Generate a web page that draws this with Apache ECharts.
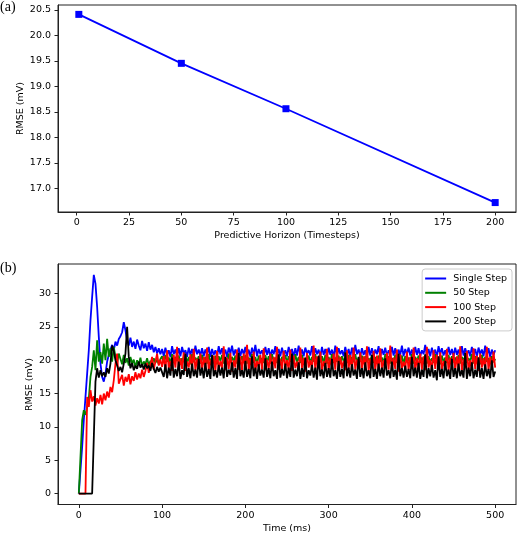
<!DOCTYPE html>
<html>
<head>
<meta charset="utf-8">
<script src="https://cdn.jsdelivr.net/npm/echarts@6/dist/echarts.min.js"></script>
<style>
  html, body { margin: 0; padding: 0; background: #fff; }
  #chart { width: 518px; height: 535px; }
</style>
</head>
<body>
<div id="chart"></div>
<script>
// (a) RMSE against predictive horizon
const horizons = [1, 50, 100, 200];
const horizonRmse = [20.41, 19.45, 18.56, 16.72];
const topXTicks = [0, 25, 50, 75, 100, 125, 150, 175, 200];
const topYTicks = [17.0, 17.5, 18.0, 18.5, 19.0, 19.5, 20.0, 20.5];

// (b) RMSE over time, sampled every 2 ms from 0 to 500 ms
const timeStepMs = 2;
const seriesNames = ['Single Step', '50 Step', '100 Step', '200 Step'];
const singleStep = [
  0,3.5,7,11,14.5,18,21.5,26,29.5,32.8,31.5,28,23.5,19.5,17.5,16.8,18,19.8,20.8,21.6,22.3,21.5,22.8,22.2,23.2,
  23.6,24.2,25.7,24.5,23,22.2,23.4,22,22.8,21.7,23.1,22.2,21.5,22.9,21.8,22.5,21.4,22.7,21.6,22.3,21.2,22,21,21.8,20.9,
  21.7,20.6,21.9,20.8,21.5,20.5,22.1,20.9,21.6,20.7,21.8,20.6,22.0,21.0,21.5,20.5,21.9,20.8,21.7,20.6,22.2,20.9,21.6,20.7,21.8,
  20.6,21.6,20.9,22.0,20.5,21.7,20.8,21.5,20.6,22.1,20.9,21.8,20.7,21.6,20.5,21.9,21.0,22.2,20.7,21.6,20.8,21.9,20.6,21.7,20.9,
  22.0,20.7,21.6,20.5,21.9,20.8,22.3,20.6,21.7,20.9,21.5,20.6,22.0,20.8,21.8,20.5,21.6,20.9,22.1,20.7,21.7,20.6,21.9,20.8,21.5,
  20.6,22.0,20.9,21.7,20.5,21.8,20.7,22.2,20.8,21.6,20.6,21.9,21.0,21.5,20.7,22.1,20.6,21.8,20.9,21.6,20.5,22.0,20.8,21.7,20.6,
  21.9,20.8,21.6,20.5,22.2,20.7,21.8,20.9,21.5,20.6,22.0,20.8,21.7,20.5,21.9,20.7,22.3,20.9,21.6,20.6,21.8,20.8,21.5,20.5,22.0,
  20.7,21.8,20.6,21.6,20.9,22.1,20.5,21.7,20.8,21.9,20.6,21.5,20.9,22.0,20.7,21.8,20.5,21.6,20.8,22.2,20.6,21.7,20.9,21.9,20.7,
  21.6,20.5,22.0,20.8,21.8,20.6,21.5,20.9,22.3,20.7,21.7,20.6,21.9,20.8,21.6,20.5,22.1,20.9,21.8,20.7,21.5,20.6,22.0,20.8,21.7,
  20.6,21.9,20.8,21.6,20.5,22.1,20.7,21.8,20.9,21.5,20.6,22.0,20.8,21.7,20.5,21.9,20.9,21.6,20.6,22.2,20.7,21.8,20.5,21.6,20.8,
  21.5
];
const step50 = [
  0,0,11,12.5,11.8,12.9,14.2,17.5,19,21.5,18.5,23,19.8,21.2,19.5,22.5,20,23.2,20.5,21.8,19.8,22,20.5,19.5,21,
  20.2,19.4,20.8,19.6,20.3,19.2,20.5,19.5,20.1,18.9,20,19.3,20.4,19.1,19.8,19.4,20.3,19.2,19.9,19.5,20.3,19.6,20.1,19.4,20.2,
  20.6,19.6,20.8,19.8,20.4,19.5,20.9,19.7,20.5,19.9,20.7,19.5,20.3,19.8,20.8,19.6,20.5,19.4,20.9,19.7,20.4,19.9,20.6,19.5,20.8,
  19.7,20.5,19.5,20.9,19.8,20.3,19.6,20.7,19.4,20.6,19.9,20.8,19.5,20.4,19.7,21.0,19.6,20.5,19.8,20.7,19.5,20.3,19.9,20.6,19.6,
  20.8,19.5,20.4,19.8,20.9,19.6,20.5,19.4,20.7,19.9,20.3,19.6,20.8,19.7,20.6,19.5,20.9,19.8,20.4,19.6,20.7,19.5,20.5,19.9,20.8,
  19.6,20.6,19.8,20.4,19.5,20.9,19.7,20.5,19.6,20.8,19.4,20.3,19.9,20.7,19.6,20.5,19.8,20.9,19.5,20.4,19.7,20.6,19.6,20.8,19.5,
  20.5,19.7,20.9,19.6,20.4,19.8,20.7,19.5,20.6,19.9,20.3,19.6,20.8,19.4,20.5,19.7,20.9,19.6,20.4,19.8,20.7,19.5,20.6,19.7,20.3,
  19.9,20.8,19.6,20.5,19.5,20.7,19.8,20.4,19.6,20.9,19.7,20.6,19.5,20.3,19.8,20.8,19.6,20.5,19.9,20.7,19.4,20.6,19.7,20.4,19.6,
  20.9,19.5,20.5,19.8,20.7,19.6,20.4,19.9,20.8,19.5,20.6,19.7,20.3,19.6,20.9,19.8,20.5,19.4,20.7,19.7,20.4,19.6,20.8,19.5,20.6,
  19.7,20.4,19.6,20.8,19.5,20.5,19.9,20.7,19.6,20.3,19.8,20.9,19.5,20.6,19.7,20.4,19.4,20.8,19.6,20.5,19.8,20.3,19.5,20.6,19.7,
  20.2
];
const step100 = [
  0,0,0,0,0,14.5,13,15.5,13.8,14.6,13.2,14.3,13.5,14.8,13.4,15,14,15.3,14.4,16,15.2,17,19.5,21,16.5,
  16.5,17.8,16.2,17.5,16.8,17.9,16.4,17.6,16.9,18.2,17.1,18,17.3,18.6,17.5,18.4,19.6,18.1,19.3,20.5,18.6,19.8,21,19.2,20.1,
  19.0,20.6,18.6,21.5,18.8,19.9,18.4,20.8,18.9,22.0,18.5,20.3,18.7,21.2,18.4,19.8,18.9,20.9,18.6,21.7,18.5,20.2,18.8,21.0,18.4,
  20.5,18.7,21.9,18.5,20.1,18.9,20.7,18.4,21.4,18.6,19.9,18.8,22.1,18.5,20.4,18.7,21.1,18.3,20.0,18.9,21.6,18.6,20.6,18.4,21.0,
  18.7,22.3,18.5,20.3,18.8,21.3,18.4,19.9,18.9,20.8,18.6,21.8,18.5,20.1,18.7,21.0,18.4,20.5,18.8,22.0,18.6,20.2,18.5,21.4,18.9,
  20.0,18.6,21.6,18.4,20.7,18.8,19.8,18.5,21.9,18.7,20.4,18.3,21.1,18.9,20.0,18.6,22.2,18.5,20.6,18.8,21.3,18.4,19.9,18.7,21.7,
  18.5,20.3,18.9,21.0,18.6,22.0,18.4,20.5,18.8,19.9,18.5,21.5,18.7,20.8,18.4,21.9,18.6,20.1,18.9,21.2,18.5,20.6,18.7,22.1,18.4,
  20.2,18.8,21.4,18.5,20.7,18.6,21.8,18.4,20.0,18.9,21.1,18.6,22.2,18.5,20.4,18.7,21.6,18.3,20.9,18.8,19.8,18.6,21.3,18.5,20.5,
  18.7,21.9,18.4,20.3,18.8,21.0,18.6,20.6,18.5,22.0,18.9,20.1,18.4,21.5,18.7,20.8,18.5,21.2,18.6,19.9,18.8,21.7,18.4,20.4,18.9,
  21.1,18.5,20.6,18.7,22.1,18.4,20.2,18.8,21.4,18.6,20.0,18.5,21.8,18.7,20.7,18.4,21.0,18.9,20.3,18.6,22.0,18.5,20.5,18.7,21.3,
  18.9
];
const step200 = [
  0,0,0,0,0,0,0,0,0,0,16.8,18.8,17.4,18.5,17.6,18.2,17.5,18.8,18,19.5,22.2,21.4,20,19.2,18.4,
  19,18.2,19.5,21,25,20.5,18.8,19.6,18.5,19.2,18.7,19.8,18.9,19.4,18.6,19.5,18.8,19.2,18.4,19.6,18.7,18.1,19,18.3,18.9,
  18.6,17.5,19.4,17.3,18.9,17.7,20.4,17.4,18.7,17.6,19.8,17.2,18.5,17.8,21.0,17.5,18.8,17.3,19.5,17.6,18.6,17.4,20.2,17.7,18.9,
  17.3,19.6,17.5,18.7,17.2,20.8,17.6,18.5,17.4,19.3,17.7,18.9,17.3,20.5,17.5,18.6,17.8,19.7,17.4,18.8,17.2,21.1,17.6,18.5,17.4,
  19.9,17.5,18.7,17.3,20.6,17.6,18.9,17.2,19.4,17.7,18.6,17.4,20.3,17.5,18.8,17.3,19.8,17.6,18.5,17.2,20.9,17.4,18.7,17.7,19.5,
  17.3,18.9,17.5,21.0,17.4,18.6,17.6,19.7,17.2,18.8,17.5,20.4,17.3,18.5,17.7,19.3,17.4,18.9,17.1,20.7,17.6,18.6,17.3,19.6,17.5,
  18.8,17.4,20.2,17.6,18.5,17.2,19.9,17.5,18.7,17.3,21.2,17.6,18.9,17.4,19.4,17.7,18.6,17.2,20.5,17.5,18.8,17.3,19.7,17.6,18.5,
  17.3,20.8,17.5,18.7,17.2,19.5,17.6,18.9,17.4,20.3,17.7,18.5,17.3,19.8,17.5,18.6,17.1,21.0,17.6,18.8,17.4,19.2,17.5,18.7,17.3,
  20.5,17.6,18.9,17.4,19.6,17.2,18.6,17.5,20.9,17.3,18.8,17.6,19.3,17.4,18.5,17.0,20.6,17.5,18.7,17.3,19.9,17.6,18.6,17.2,20.2,
  17.5,18.8,17.3,19.5,17.6,18.5,17.4,21.1,17.2,18.9,17.6,19.7,17.3,18.6,17.5,20.4,17.4,18.8,17.2,19.4,17.6,18.7,17.3,20.0,17.5,
  18.3
];
const bottomXTicks = [0, 100, 200, 300, 400, 500];
const bottomYTicks = [0, 5, 10, 15, 20, 25, 30];

const colors = ['#0000ff', '#008000', '#ff0000', '#000000'];
const font = 'DejaVu Sans';
const labelStyle = { color: '#000', fontFamily: font, fontSize: 9.5 };

function pairs(values) {
  return values.map((v, i) => [i * timeStepMs, v]);
}

function valueAxis(gridIndex, min, max, ticks, fmt, name, nameGap, labelMargin) {
  return {
    type: 'value',
    gridIndex: gridIndex,
    min: min,
    max: max,
    name: name,
    nameLocation: 'middle',
    nameGap: nameGap,
    nameTextStyle: labelStyle,
    axisLine: { show: true, onZero: false, lineStyle: { color: '#222', width: 1 } },
    axisTick: { show: true, inside: false, length: 3.5, lineStyle: { color: '#222' }, customValues: ticks },
    axisLabel: Object.assign({ margin: labelMargin, customValues: ticks, formatter: fmt }, labelStyle),
    splitLine: { show: false }
  };
}

function yName(x, y) {
  return {
    type: 'text',
    x: x,
    y: y,
    rotation: Math.PI / 2,
    style: { text: 'RMSE (mV)', fill: '#000', font: '9.5px "DejaVu Sans"', align: 'center', verticalAlign: 'middle' }
  };
}

const chart = echarts.init(document.getElementById('chart'), null, { renderer: 'canvas' });

const lineSeries = [singleStep, step50, step100, step200].map((vals, i) => ({
  name: seriesNames[i],
  type: 'line',
  xAxisIndex: 1,
  yAxisIndex: 1,
  data: pairs(vals),
  showSymbol: false,
  symbol: 'none',
  lineStyle: { color: colors[i], width: 1.8 },
  itemStyle: { color: colors[i] },
  z: 2 + i
}));

const titleFont = { fontFamily: 'Liberation Serif', fontSize: 14, fontWeight: 'normal', color: '#000' };

chart.setOption({
  animation: false,
  backgroundColor: '#fff',
  title: [
    { text: '(a)', left: 0, top: 0, padding: 0, textStyle: titleFont },
    { text: '(b)', left: 0, top: 261, padding: 0, textStyle: titleFont }
  ],
  graphic: [yName(20.5, 108.5), yName(30, 384.5)],
  grid: [
    { left: 58, top: 5, width: 458, height: 207, show: true, borderColor: '#222', borderWidth: 1, backgroundColor: 'transparent' },
    { left: 58, top: 264, width: 458, height: 241, show: true, borderColor: '#222', borderWidth: 1, backgroundColor: 'transparent' }
  ],
  xAxis: [
    valueAxis(0, -8.95, 209.95, topXTicks, v => String(v), 'Predictive Horizon (Timesteps)', 18.5, 6),
    valueAxis(1, -25, 525, bottomXTicks, v => String(v), 'Time (ms)', 19.5, 6)
  ],
  yAxis: [
    valueAxis(0, 16.535, 20.594, topYTicks, v => v.toFixed(1), '', 0, 7),
    valueAxis(1, -1.64, 34.44, bottomYTicks, v => String(v), '', 0, 7)
  ],
  legend: {
    data: seriesNames,
    orient: 'vertical',
    right: 6,
    top: 269,
    icon: 'rect',
    itemWidth: 21,
    itemHeight: 2,
    itemGap: 3.3,
    padding: [4, 5, 4, 3],
    backgroundColor: '#fff',
    borderColor: '#cccccc',
    borderWidth: 1,
    borderRadius: 3,
    textStyle: { color: '#000', fontFamily: font, fontSize: 9.5, lineHeight: 11, padding: [0, 0, 0, 2] }
  },
  series: [
    {
      name: 'Horizon RMSE',
      type: 'line',
      xAxisIndex: 0,
      yAxisIndex: 0,
      data: horizons.map((h, i) => [h, horizonRmse[i]]),
      symbol: 'rect',
      symbolSize: 7,
      lineStyle: { color: '#0000ff', width: 1.8 },
      itemStyle: { color: '#0000ff' }
    }
  ].concat(lineSeries)
});
</script>
</body>
</html>
